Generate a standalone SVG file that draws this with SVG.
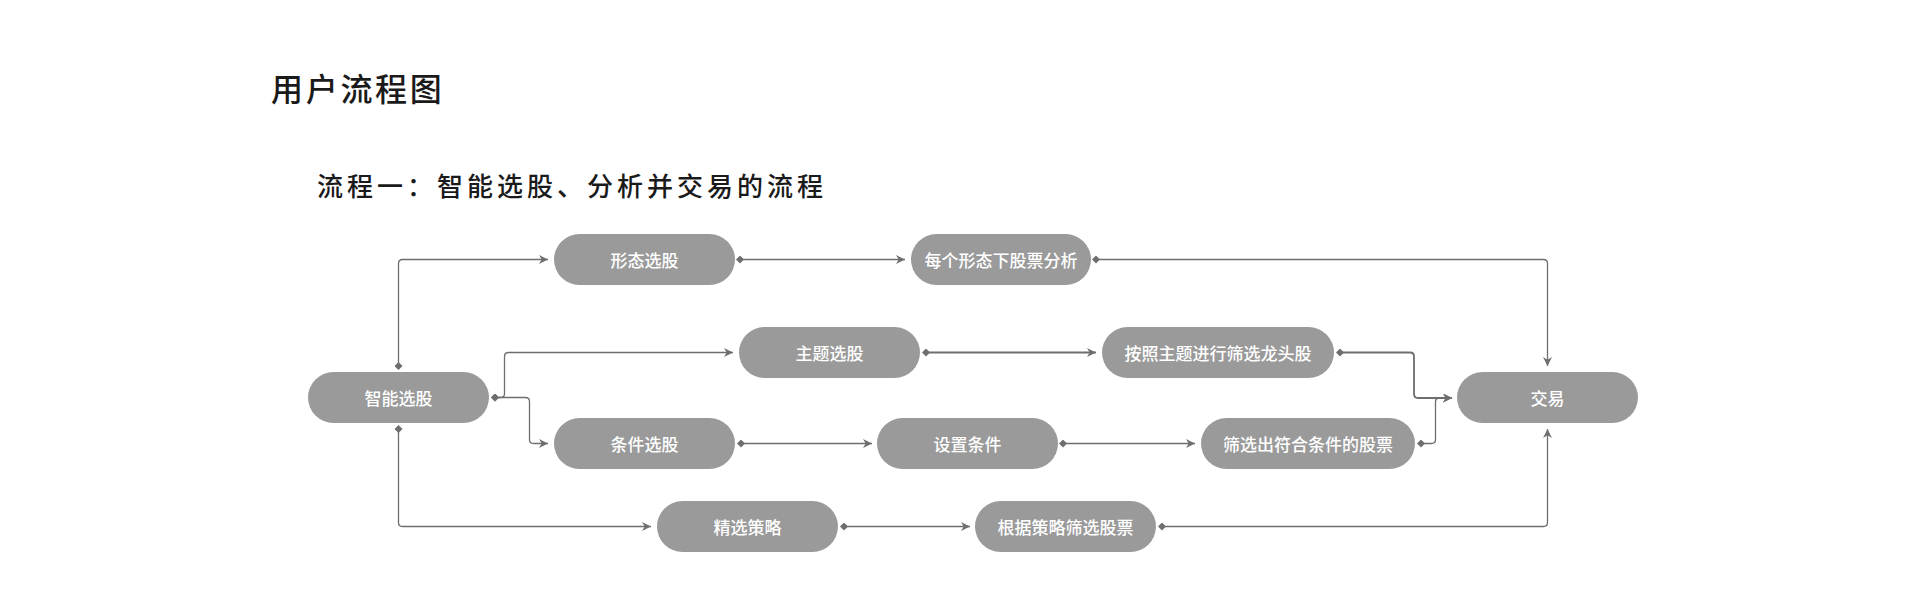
<svg xmlns="http://www.w3.org/2000/svg" width="1920" height="606" viewBox="0 0 1920 606">
  <style>
    .pill { fill: #9a9a9a; }
    .lbl { font-family: "Noto Sans CJK SC", "Noto Sans", sans-serif; font-size: 17px; font-weight: 500; fill: #ffffff; text-anchor: middle; }
    .conn { fill: none; stroke: #6e6e6e; stroke-width: 1.3; marker-start: url(#dot); marker-end: url(#arrow); }
    .thick { stroke-width: 1.8; }
    .title { font-family: "Noto Sans CJK SC", "Noto Sans", sans-serif; font-weight: 500; fill: #1a1a1a; }
  </style>
  <defs>
    <marker id="arrow" viewBox="0 0 10 10" refX="10" refY="5" markerWidth="9" markerHeight="9" markerUnits="userSpaceOnUse" orient="auto">
      <path d="M0,0 L10,5 L0,10 L3,5 z" fill="#6e6e6e"/>
    </marker>
    <marker id="dot" viewBox="0 0 8 8" refX="4" refY="4" markerWidth="8" markerHeight="8" markerUnits="userSpaceOnUse" orient="auto">
      <path d="M0,4 L4,0 L8,4 L4,8 z" fill="#6e6e6e"/>
    </marker>
  </defs>
  <rect width="1920" height="606" fill="#ffffff"/>

  <text class="title" x="271" y="101" font-size="32" letter-spacing="2.7">用户流程图</text>
  <text class="title" x="317" y="196" font-size="26" letter-spacing="4">流程一：智能选股、分析并交易的流程</text>

  <g id="connectors">
    <path class="conn" d="M398.5,366 V263.5 Q398.5,259.5 402.5,259.5 H548"/>
    <path class="conn" d="M740,259.5 H905"/>
    <path class="conn" d="M1096,259.5 H1543.5 Q1547.5,259.5 1547.5,263.5 V366"/>
    <path class="conn" d="M495,397.5 H500.5 Q504.5,397.5 504.5,393.5 V356.5 Q504.5,352.5 508.5,352.5 H733"/>
    <path class="conn" d="M495,397.5 H525.5 Q529.5,397.5 529.5,401.5 V439.5 Q529.5,443.5 533.5,443.5 H548"/>
    <path class="conn thick" d="M926,352.5 H1096"/>
    <path class="conn thick" d="M1340,352.5 H1410 Q1414,352.5 1414,356.5 V394 Q1414,398 1418,398 H1452"/>
    <path class="conn" d="M741,443.5 H872"/>
    <path class="conn" d="M1063,443.5 H1195"/>
    <path class="conn" d="M1421,443.5 H1431.5 Q1435.5,443.5 1435.5,439.5 V402 Q1435.5,398 1439.5,398 H1452"/>
    <path class="conn" d="M398.5,429 V522.5 Q398.5,526.5 402.5,526.5 H651"/>
    <path class="conn" d="M844,526.5 H970"/>
    <path class="conn" d="M1162,526.5 H1543.5 Q1547.5,526.5 1547.5,522.5 V429"/>
  </g>

  <g id="zhineng">
    <rect class="pill" x="308" y="372" width="181" height="51" rx="25.5"/>
    <text class="lbl" x="398.5" y="405">智能选股</text>
  </g>
  <g id="xingtai">
    <rect class="pill" x="554" y="234" width="181" height="51" rx="25.5"/>
    <text class="lbl" x="644.5" y="267">形态选股</text>
  </g>
  <g id="meige">
    <rect class="pill" x="911" y="234" width="180" height="51" rx="25.5"/>
    <text class="lbl" x="1001" y="267">每个形态下股票分析</text>
  </g>
  <g id="zhuti">
    <rect class="pill" x="739" y="327" width="181" height="51" rx="25.5"/>
    <text class="lbl" x="829.5" y="360">主题选股</text>
  </g>
  <g id="anzhao">
    <rect class="pill" x="1102" y="327" width="232" height="51" rx="25.5"/>
    <text class="lbl" x="1218" y="360">按照主题进行筛选龙头股</text>
  </g>
  <g id="tiaojian">
    <rect class="pill" x="554" y="418" width="181" height="51" rx="25.5"/>
    <text class="lbl" x="644.5" y="451">条件选股</text>
  </g>
  <g id="shezhi">
    <rect class="pill" x="877" y="418" width="181" height="51" rx="25.5"/>
    <text class="lbl" x="967.5" y="451">设置条件</text>
  </g>
  <g id="shaixuan">
    <rect class="pill" x="1201" y="418" width="214" height="51" rx="25.5"/>
    <text class="lbl" x="1308" y="451">筛选出符合条件的股票</text>
  </g>
  <g id="jingxuan">
    <rect class="pill" x="657" y="501" width="181" height="51" rx="25.5"/>
    <text class="lbl" x="747.5" y="534">精选策略</text>
  </g>
  <g id="genju">
    <rect class="pill" x="975" y="501" width="181" height="51" rx="25.5"/>
    <text class="lbl" x="1065.5" y="534">根据策略筛选股票</text>
  </g>
  <g id="jiaoyi">
    <rect class="pill" x="1457" y="372" width="181" height="51" rx="25.5"/>
    <text class="lbl" x="1547.5" y="405">交易</text>
  </g>
</svg>
